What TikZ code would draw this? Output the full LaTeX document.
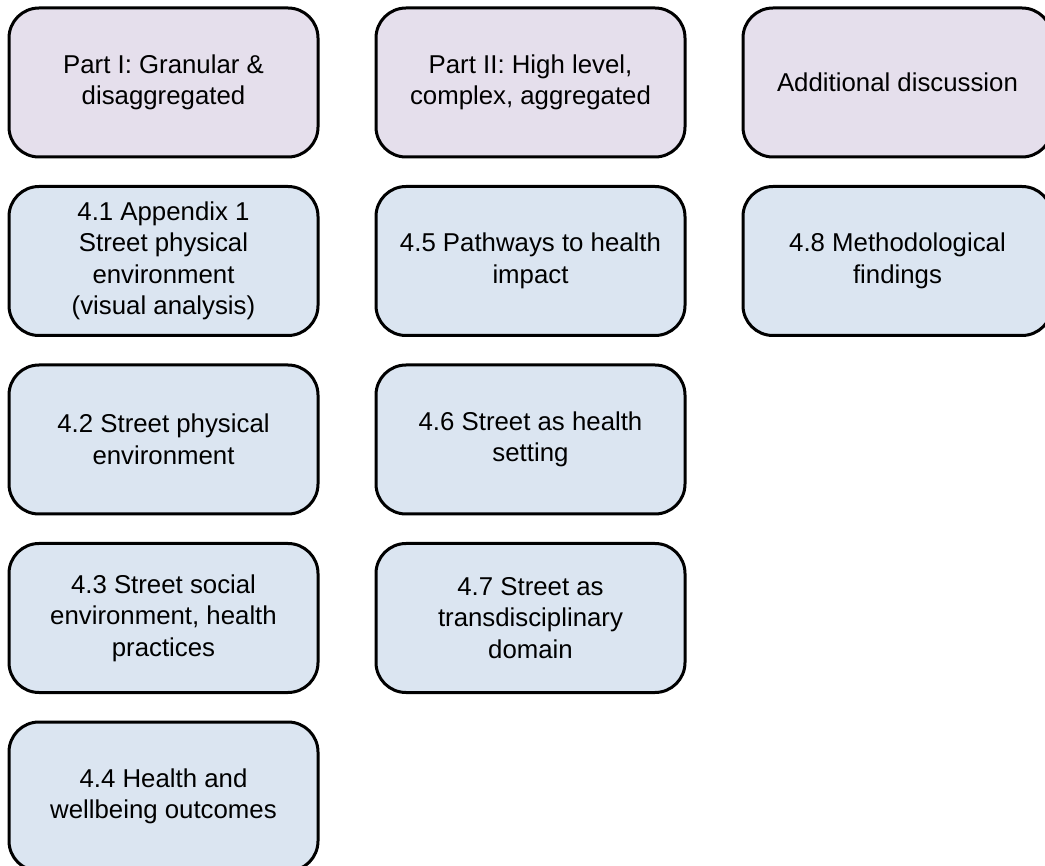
\documentclass[tikz,border=0pt]{standalone}
\usepackage{fontspec}
\setmainfont{Liberation Sans}
\definecolor{partfill}{HTML}{E5DFEC}
\definecolor{secfill}{HTML}{DBE5F1}
\tikzset{
  box/.style={draw=black, line width=3pt, rounded corners=30pt,
    minimum width=309pt, minimum height=149pt, inner sep=0pt,
    align=center, font=\fontsize{25.8pt}{31.5pt}\selectfont},
  partbox/.style={box, fill=partfill},
  secbox/.style={box, fill=secfill},
}
\begin{document}
\begin{tikzpicture}[x=1pt, y=-1pt]
\useasboundingbox (0,0) rectangle (1045,866);
\clip (0,0) rectangle (1045,866);
% column centres: 163.5, 530.5, 897.5; row centres step 178.5
\node[partbox] (p1) at (163.5,82.5) {Part I: Granular \&\\disaggregated};
\node[partbox] (p2) at (530.5,82.5) {Part II: High level,\\complex, aggregated};
\node[partbox] (p3) at (897.5,82.5) {Additional discussion};
\node[secbox] (s41) at (163.5,261) {4.1 Appendix 1\\Street physical\\environment\\(visual analysis)};
\node[secbox] (s45) at (530.5,261) {4.5 Pathways to health\\impact};
\node[secbox] (s48) at (897.5,261) {4.8 Methodological\\findings};
\node[secbox] (s42) at (163.5,439.5) {4.2 Street physical\\environment};
\node[secbox] (s46) at (530.5,439.5) {4.6 Street as health\\setting};
\node[secbox] (s43) at (163.5,618) {4.3 Street social\\environment, health\\practices};
\node[secbox] (s47) at (530.5,618) {4.7 Street as\\transdisciplinary\\domain};
\node[secbox] (s44) at (163.5,796.5) {4.4 Health and\\wellbeing outcomes};
\end{tikzpicture}
\end{document}
